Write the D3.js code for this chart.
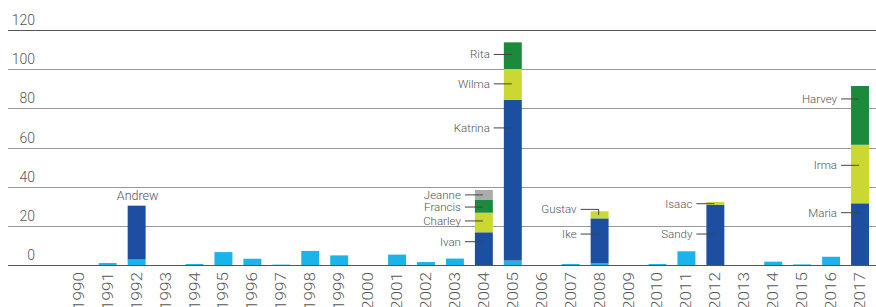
<!DOCTYPE html>
<html>
<head>
<meta charset="utf-8">
<script src="https://cdn.jsdelivr.net/npm/d3@7"></script>
<style>
  html, body { margin: 0; padding: 0; background: #fff; }
  svg { display: block; }
  text { font-family: Roboto, "Liberation Sans", sans-serif; font-weight: 300; fill: #555; }
</style>
</head>
<body>
<svg id="chart" width="876" height="307"></svg>
<script>
// ---- data ----
const years = [1990,1991,1992,1993,1994,1995,1996,1997,1998,1999,2000,2001,2002,2003,
               2004,2005,2006,2007,2008,2009,2010,2011,2012,2013,2014,2015,2016,2017];
// losses not attributed to the named storms (light blue)
const other = [0,1,2.8,0,0.5,6.6,3.2,0.2,7.2,4.9,0,5.3,1.5,3.3,
               0,2.3,0,0.5,1,0,0.5,7,0,0,1.7,0.3,4.2,0];
// named storms, one array per stack layer
const layer1 = [ // dark blue
  {year: 1992, name: "Andrew", value: 27.5},
  {year: 2004, name: "Ivan", value: 16.7, labelAt: 11.9},
  {year: 2005, name: "Katrina", value: 82, labelAt: 70},
  {year: 2008, name: "Ike", value: 22.8, labelAt: 15.8},
  {year: 2012, name: "Sandy", value: 30.8, labelAt: 15.8},
  {year: 2017, name: "Maria", value: 31.5, labelAt: 26.7}
];
const layer2 = [ // lime
  {year: 2004, name: "Charley", value: 10, labelAt: 22.5},
  {year: 2005, name: "Wilma", value: 15.8, labelAt: 92.5},
  {year: 2008, name: "Gustav", value: 3.6, labelAt: 28.4, elbow: true},
  {year: 2012, name: "Isaac", value: 1.4, labelAt: 31.3},
  {year: 2017, name: "Irma", value: 29.9, labelAt: 50.9}
];
const layer3 = [ // green
  {year: 2004, name: "Francis", value: 6.5, labelAt: 29.6},
  {year: 2005, name: "Rita", value: 13.6, labelAt: 107.5},
  {year: 2017, name: "Harvey", value: 30, labelAt: 84.8}
];
const layer4 = [ // grey
  {year: 2004, name: "Jeanne", value: 5.1, labelAt: 35.8}
];
const yTicks = [0, 20, 40, 60, 80, 100, 120];

const keys = ["other", "l1", "l2", "l3", "l4"];
const layers = {l1: layer1, l2: layer2, l3: layer3, l4: layer4};
const colors = {other: "#1ab3ea", l1: "#1c4f9f", l2: "#cbd834", l3: "#1b8a3c", l4: "#aaacac"};

// ---- build table ----
const rows = years.map((y, i) => {
  const r = {year: y, other: other[i]};
  for (const k of ["l1","l2","l3","l4"]) {
    const s = layers[k].find(d => d.year === y);
    r[k] = s ? s.value : 0;
  }
  return r;
});
const stacked = d3.stack().keys(keys)(rows);

// ---- scales ----
const svg = d3.select("#chart");
const x = d3.scaleBand().domain(years).range([64.3, 874.5]).paddingInner(0.38).paddingOuter(0.19);
const y = d3.scaleLinear().domain([0, 120]).range([265, 30]);

// grid + y labels
const grid = svg.append("g");
grid.selectAll("line").data(yTicks).join("line")
  .attr("x1", 8).attr("x2", 876)
  .attr("y1", d => Math.round(y(d)) + 0.5).attr("y2", d => Math.round(y(d)) + 0.5)
  .attr("stroke", d => (d === 0 || d === 120) ? "#555" : "#999")
  .attr("stroke-width", 1);
grid.selectAll("text").data(yTicks).join("text")
  .attr("x", 35).attr("y", d => y(d) - 5)
  .attr("text-anchor", "end")
  .attr("font-size", 14)
  .text(d => d);

// bars
const barG = svg.append("g");
stacked.forEach(layer => {
  barG.append("g").attr("fill", colors[layer.key])
    .selectAll("rect").data(layer.filter(d => d[1] - d[0] > 0)).join("rect")
    .attr("x", d => x(d.data.year))
    .attr("width", x.bandwidth())
    .attr("y", d => y(d[1]))
    .attr("height", d => y(d[0]) - y(d[1]));
});

// x axis labels (stretched along the text direction, as in the reference)
const xAxisG = svg.append("g");
xAxisG.selectAll("text").data(years).join("text")
  .attr("transform", d => `translate(${x(d) + x.bandwidth()/2 + 5},272) rotate(-90) scale(1.22,1)`)
  .attr("text-anchor", "end")
  .attr("font-size", 14)
  .text(d => d);

// storm labels
const annG = svg.append("g");
const stackOf = {};
stacked.forEach(layer => layer.forEach(d => { stackOf[layer.key + "_" + d.data.year] = d; }));
for (const k of ["l1","l2","l3","l4"]) {
  layers[k].forEach(s => {
    const left = x(s.year), cx = left + x.bandwidth()/2;
    const seg = stackOf[k + "_" + s.year];
    if (s.labelAt === undefined) {
      annG.append("text")
        .attr("x", cx + 1).attr("y", y(seg[1]) - 6)
        .attr("text-anchor", "middle").attr("font-size", 12.5)
        .text(s.name);
      return;
    }
    const ly = y(s.labelAt);
    annG.append("text")
      .attr("x", left - 14).attr("y", ly + 4)
      .attr("text-anchor", "end").attr("font-size", 11.5)
      .text(s.name);
    if (s.elbow) {
      const sy = y((seg[0] + seg[1]) / 2);
      annG.append("path")
        .attr("d", `M${left - 10},${ly}H${cx - 1}V${sy}`)
        .attr("fill", "none").attr("stroke", "#444").attr("stroke-width", 1);
    } else {
      annG.append("line")
        .attr("x1", left - 10).attr("x2", cx - 1)
        .attr("y1", ly).attr("y2", ly)
        .attr("stroke", "#444").attr("stroke-width", 1);
    }
  });
}
</script>
</body>
</html>
